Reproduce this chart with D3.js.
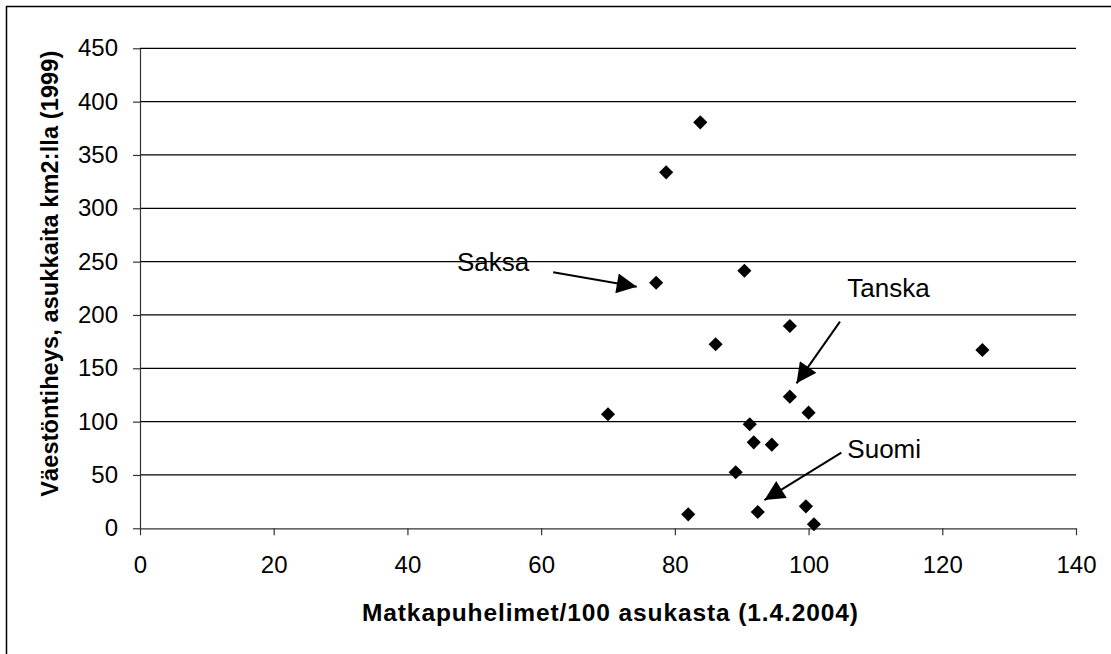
<!DOCTYPE html>
<html>
<head>
<meta charset="utf-8">
<script src="https://cdn.jsdelivr.net/npm/d3@7"></script>
<style>
  body { margin: 0; background: #fff; }
  svg { display: block; font-family: "Liberation Sans", Arial, sans-serif; }
</style>
</head>
<body>
<svg id="chart" width="1111" height="654"></svg>
<script>
// mobile phones per 100 inhabitants vs population density
const phones  = [97.2, 86.1, 70.0, 97.2, 100.0, 91.2, 91.8, 94.5, 89.1, 82.0, 92.4, 99.6, 100.8, 83.8, 78.7, 77.2, 90.4, 126.0];
const density = [189.7, 172.5, 106.9, 123.4, 108.4, 97.5, 80.6, 78.4, 52.5, 13.1, 15.3, 20.6, 3.8, 380.6, 333.7, 230.2, 241.5, 167.2];

const xTicks = [0, 20, 40, 60, 80, 100, 120, 140];
const yTicks = [0, 50, 100, 150, 200, 250, 300, 350, 400, 450];

const xTitle = "Matkapuhelimet/100 asukasta (1.4.2004)";
const yTitle = "Väestöntiheys, asukkaita km2:lla (1999)";

// annotations: label position, arrow start, arrow tip (data units)
const noteLabels = ["Saksa", "Tanska", "Suomi"];
const noteText   = [[47.4, 241.5], [105.8, 217.1], [105.8, 65.6]];
const noteFrom   = [[61.8, 240.0], [104.7, 193.7], [104.9, 70.9]];
const noteTo     = [[74.3, 226.5], [98.2, 135.9], [93.4, 26.5]];

const svg = d3.select("#chart");

//outer chart frame (only left/top visible)
svg.append("rect")
  .attr("x", 6.5).attr("y", 6.5)
  .attr("width", 1200).attr("height", 800)
  .attr("fill", "none").attr("stroke", "#000").attr("stroke-width", 1.5);

const x = d3.scaleLinear().domain([0, 140]).range([140, 1076]);
const y = d3.scaleLinear().domain([0, 450]).range([528.3, 48.3]);

//gridlines
svg.append("g")
  .selectAll("line")
  .data(yTicks.filter(d => d > 0))
  .enter()
  .append("line")
  .attr("x1", x(0)).attr("x2", x(140))
  .attr("y1", d => y(d)).attr("y2", d => y(d))
  .attr("stroke", "#000").attr("stroke-width", 1.2);

//axes
const xAxis = svg.append("g")
  .attr("transform", "translate(0," + y(0) + ")")
  .call(d3.axisBottom(x).tickValues(xTicks).tickSize(7).tickPadding(21).tickSizeOuter(0));

const yAxis = svg.append("g")
  .attr("transform", "translate(" + x(0) + ",0)")
  .call(d3.axisLeft(y).tickValues(yTicks).tickSize(7).tickPadding(15).tickSizeOuter(0));

[xAxis, yAxis].forEach(a => {
  a.select(".domain").attr("stroke", "#333").attr("stroke-width", 1.2);
  a.selectAll(".tick line").attr("stroke", "#333").attr("stroke-width", 1.2);
  a.selectAll(".tick text")
    .attr("fill", "#000")
    .style("font-family", "'Liberation Sans', Arial, sans-serif")
    .style("font-size", "24px");
});

//axis titles
svg.append("text")
  .attr("x", 362)
  .attr("y", 621)
  .attr("textLength", 496)
  .attr("lengthAdjust", "spacing")
  .style("font-size", "24.5px")
  .style("font-weight", "bold")
  .text(xTitle);

svg.append("text")
  .attr("transform", "translate(58,496.7) rotate(-90)")
  .attr("textLength", 446)
  .attr("lengthAdjust", "spacing")
  .style("font-size", "23.5px")
  .style("font-weight", "bold")
  .text(yTitle);

//diamond markers
const diamond = d3.symbol().type(d3.symbolSquare).size(100);
svg.append("g")
  .selectAll("path")
  .data(phones.map((p, i) => [p, density[i]]))
  .enter()
  .append("path")
  .attr("d", diamond)
  .attr("transform", d => "translate(" + x(d[0]) + "," + y(d[1]) + ") rotate(45)")
  .attr("fill", "#000");

//annotation arrows
svg.append("defs").append("marker")
  .attr("id", "head")
  .attr("viewBox", "0 0 10 10")
  .attr("refX", 10).attr("refY", 5)
  .attr("markerUnits", "userSpaceOnUse")
  .attr("markerWidth", 22).attr("markerHeight", 20)
  .attr("orient", "auto")
  .append("path")
  .attr("d", "M0,0 L10,5 L0,10 Z")
  .attr("fill", "#000");

const notes = svg.append("g");
noteLabels.forEach((lab, i) => {
  notes.append("text")
    .attr("x", x(noteText[i][0]))
    .attr("y", y(noteText[i][1]))
    .style("font-size", "26px")
    .text(lab);
  notes.append("line")
    .attr("x1", x(noteFrom[i][0])).attr("y1", y(noteFrom[i][1]))
    .attr("x2", x(noteTo[i][0])).attr("y2", y(noteTo[i][1]))
    .attr("stroke", "#000").attr("stroke-width", 2)
    .attr("marker-end", "url(#head)");
});
</script>
</body>
</html>
